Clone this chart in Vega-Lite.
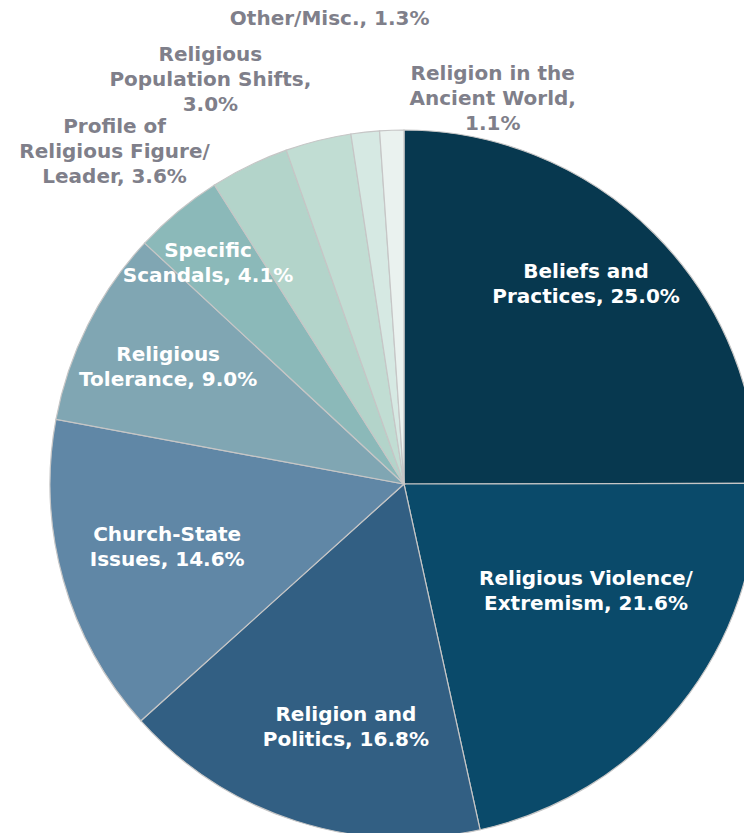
{
  "$schema": "https://vega.github.io/schema/vega-lite/v6.json",
  "autosize": {"type": "none"},
  "width": 680,
  "height": 698,
  "padding": {"left": 64, "top": 135, "right": 0, "bottom": 0},
  "background": "white",
  "config": {
    "view": {"stroke": null},
    "text": {"font": "Verdana, DejaVu Sans", "fontSize": 20, "fontWeight": "bold", "lineBreak": "\n", "lineHeight": 25, "align": "center", "baseline": "middle"}
  },
  "data": {
    "values": [
      {"rank": 1, "cat": "Beliefs and Practices", "label": "Beliefs and\nPractices, 25.0%", "value": 25.0},
      {"rank": 2, "cat": "Religious Violence/Extremism", "label": "Religious Violence/\nExtremism, 21.6%", "value": 21.6},
      {"rank": 3, "cat": "Religion and Politics", "label": "Religion and\nPolitics, 16.8%", "value": 16.8},
      {"rank": 4, "cat": "Church-State Issues", "label": "Church-State\nIssues, 14.6%", "value": 14.6},
      {"rank": 5, "cat": "Religious Tolerance", "label": "Religious\nTolerance, 9.0%", "value": 9.0},
      {"rank": 6, "cat": "Specific Scandals", "label": "Specific\nScandals, 4.1%", "value": 4.1},
      {"rank": 7, "cat": "Profile of Religious Figure/Leader", "label": "Profile of\nReligious Figure/\nLeader, 3.6%", "value": 3.6},
      {"rank": 8, "cat": "Religious Population Shifts", "label": "Religious\nPopulation Shifts,\n3.0%", "value": 3.0},
      {"rank": 9, "cat": "Other/Misc.", "label": "Other/Misc., 1.3%", "value": 1.3},
      {"rank": 10, "cat": "Religion in the Ancient World", "label": "Religion in the\nAncient World,\n1.1%", "value": 1.1}
    ]
  },
  "encoding": {
    "theta": {"field": "value", "type": "quantitative", "stack": true},
    "order": {"field": "rank", "type": "quantitative"}
  },
  "layer": [
    {
      "mark": {"type": "arc", "outerRadius": 354, "stroke": "#c6c6c6", "strokeWidth": 1.2},
      "encoding": {
        "color": {
          "field": "cat", "type": "nominal", "legend": null,
          "scale": {
            "domain": ["Beliefs and Practices", "Religious Violence/Extremism", "Religion and Politics", "Church-State Issues", "Religious Tolerance", "Specific Scandals", "Profile of Religious Figure/Leader", "Religious Population Shifts", "Other/Misc.", "Religion in the Ancient World"],
            "range": ["#07384f", "#0a4a6a", "#325f83", "#6087a6", "#80a6b3", "#8bb9b9", "#b3d4ca", "#c1ddd3", "#d6e9e3", "#eaf2ef"]
          }
        }
      }
    },
    {"mark": {"type": "text", "radius": 269, "dx": -8, "dy": -21.5, "fill": "white"},
     "encoding": {"text": {"condition": {"test": "datum.rank == 1", "field": "label"}, "value": ""}}},
    {"mark": {"type": "text", "radius": 209, "dx": 19, "dy": -35.5, "fill": "white"},
     "encoding": {"text": {"condition": {"test": "datum.rank == 2", "field": "label"}, "value": ""}}},
    {"mark": {"type": "text", "radius": 249, "dx": 18, "dy": -6.5, "fill": "white"},
     "encoding": {"text": {"condition": {"test": "datum.rank == 3", "field": "label"}, "value": ""}}},
    {"mark": {"type": "text", "radius": 245, "dx": -1, "dy": -15.5, "fill": "white"},
     "encoding": {"text": {"condition": {"test": "datum.rank == 4", "field": "label"}, "value": ""}}},
    {"mark": {"type": "text", "radius": 264, "dx": 0, "dy": -10.5, "fill": "white"},
     "encoding": {"text": {"condition": {"test": "datum.rank == 5", "field": "label"}, "value": ""}}},
    {"mark": {"type": "text", "radius": 294, "dx": -8, "dy": -6.5, "fill": "white"},
     "encoding": {"text": {"condition": {"test": "datum.rank == 6", "field": "label"}, "value": ""}}},
    {"mark": {"type": "text", "radius": 420, "dx": -106, "dy": 21, "fill": "#7f7f8a"},
     "encoding": {"text": {"condition": {"test": "datum.rank == 7", "field": "label"}, "value": ""}}},
    {"mark": {"type": "text", "radius": 440, "dx": -87, "dy": -2, "fill": "#7f7f8a"},
     "encoding": {"text": {"condition": {"test": "datum.rank == 8", "field": "label"}, "value": ""}}},
    {"mark": {"type": "text", "radius": 468, "dx": -23, "dy": 0, "fill": "#7f7f8a"},
     "encoding": {"text": {"condition": {"test": "datum.rank == 9", "field": "label"}, "value": ""}}},
    {"mark": {"type": "text", "radius": 385, "dx": 102, "dy": -25, "fill": "#7f7f8a"},
     "encoding": {"text": {"condition": {"test": "datum.rank == 10", "field": "label"}, "value": ""}}}
  ]
}
